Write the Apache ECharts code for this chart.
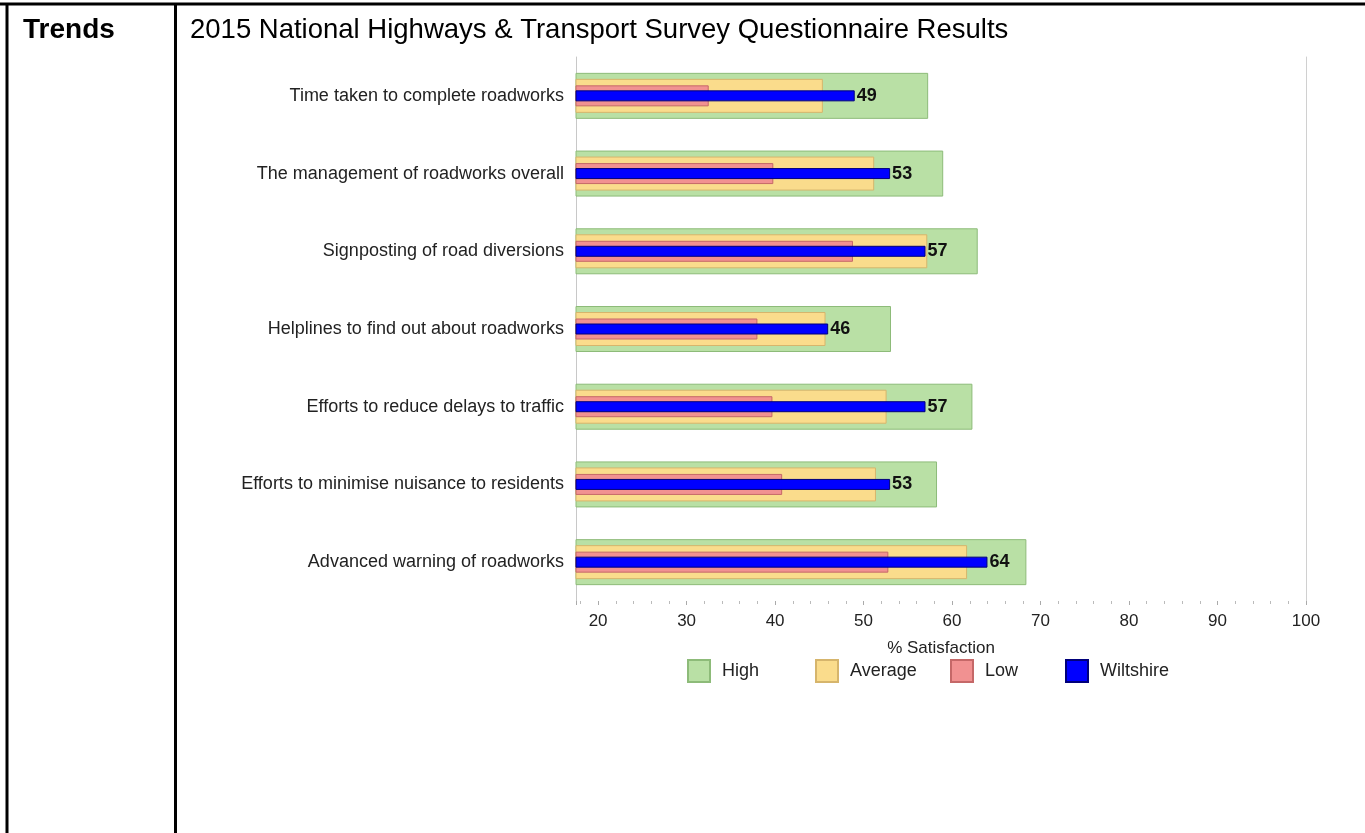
<!DOCTYPE html>
<html>
<head>
<meta charset="utf-8">
<script src="https://cdn.jsdelivr.net/npm/echarts@6/dist/echarts.min.js"></script>
<style>
html,body{margin:0;padding:0;background:#fff;}
#chart{width:1365px;height:833px;}
</style>
</head>
<body>
<div id="chart"></div>
<script>
const categories = [
  "Time taken to complete roadworks",
  "The management of roadworks overall",
  "Signposting of road diversions",
  "Helplines to find out about roadworks",
  "Efforts to reduce delays to traffic",
  "Efforts to minimise nuisance to residents",
  "Advanced warning of roadworks"
];
const highValues = [57.3, 59.0, 62.9, 53.1, 62.3, 58.3, 68.4];
const averageValues = [45.4, 51.2, 57.2, 45.7, 52.6, 51.4, 61.7];
const lowValues = [32.5, 39.8, 48.8, 38.0, 39.7, 40.8, 52.8];
const wiltshireValues = [49, 53, 57, 46, 57, 53, 64];
const axisMin = 17.5;
const axisMax = 100;

const FONT = "'Liberation Sans', Arial, sans-serif";
const chart = echarts.init(document.getElementById('chart'));

function catAxis(i, show) {
  return {
    type: 'category',
    data: categories,
    inverse: true,
    gridIndex: 0,
    position: 'left',
    show: true,
    axisLine: { show: show, lineStyle: { color: '#c8c8c8', width: 1 } },
    axisTick: { show: false },
    axisLabel: show ? { show: true, color: '#222', fontFamily: FONT, fontSize: 18, margin: 12 } : { show: false },
    splitLine: { show: false }
  };
}

const yAxes = [catAxis(0, true), catAxis(1, false), catAxis(2, false), catAxis(3, false)];
yAxes.push({
  type: 'category', data: categories, inverse: true, position: 'right',
  axisLine: { show: true, lineStyle: { color: '#d0d0d0', width: 1 } },
  axisTick: { show: false }, axisLabel: { show: false }
});

function line(x1, y1, x2, y2, w) {
  return { type: 'line', shape: { x1, y1, x2, y2 }, style: { stroke: '#000', lineWidth: w }, z: 100 };
}

const option = {
  animation: false,
  backgroundColor: '#fff',
  textStyle: { fontFamily: FONT },
  graphic: [
    line(0, 4, 1365, 4, 3),
    line(7, 4, 7, 833, 3),
    line(175.5, 4, 175.5, 833, 3),
    { type: 'text', left: 23, top: 16, style: { text: 'Trends', font: "bold 28px 'Liberation Sans', Arial", fill: '#000' } },
    { type: 'text', left: 190, top: 16, style: { text: '2015 National Highways & Transport Survey Questionnaire Results', font: "27.5px 'Liberation Sans', Arial", fill: '#000' } }
  ],
  grid: { left: 576, right: 59, top: 57, bottom: 232, containLabel: false },
  legend: [
    { data: ['High'], left: 682, top: 654 },
    { data: ['Average'], left: 810, top: 654 },
    { data: ['Low'], left: 945, top: 654 },
    { data: ['Wiltshire'], left: 1060, top: 654 }
  ].map(l => Object.assign(l, {
    itemWidth: 22, itemHeight: 22, icon: 'rect',
    textStyle: { fontFamily: FONT, fontSize: 18, color: '#222', padding: [0, 0, 0, 7] }
  })),
  xAxis: {
    type: 'value', min: axisMin, max: axisMax, splitNumber: 8,
    axisLine: { show: false },
    axisTick: { show: true, length: 4, lineStyle: { color: '#aaa' } },
    minorTick: { show: true, splitNumber: 5, length: 3, lineStyle: { color: '#bbb' } },
    splitLine: { show: false },
    axisLabel: { color: '#222', fontFamily: FONT, fontSize: 17, margin: 12, showMinLabel: false },
    name: '% Satisfaction', nameLocation: 'middle', nameGap: 39,
    nameTextStyle: { color: '#222', fontFamily: FONT, fontSize: 17 }
  },
  yAxis: yAxes,
  series: [
    { name: 'High', type: 'bar', yAxisIndex: 0, data: highValues, barWidth: 46,
      itemStyle: { color: '#b9e0a5', borderColor: '#8dbb79', borderWidth: 1 } },
    { name: 'Average', type: 'bar', yAxisIndex: 1, data: averageValues, barWidth: 34,
      itemStyle: { color: '#fadc8c', borderColor: '#d6b56c', borderWidth: 1 } },
    { name: 'Low', type: 'bar', yAxisIndex: 2, data: lowValues, barWidth: 21,
      itemStyle: { color: '#f19191', borderColor: '#c56868', borderWidth: 1 } },
    { name: 'Wiltshire', type: 'bar', yAxisIndex: 3, data: wiltshireValues, barWidth: 11,
      itemStyle: { color: '#0000ff', borderColor: '#00007a', borderWidth: 1 },
      label: { show: true, position: 'right', distance: 2, color: '#111', fontFamily: FONT, fontWeight: 'bold', fontSize: 18 } }
  ]
};
chart.setOption(option);
</script>
</body>
</html>
